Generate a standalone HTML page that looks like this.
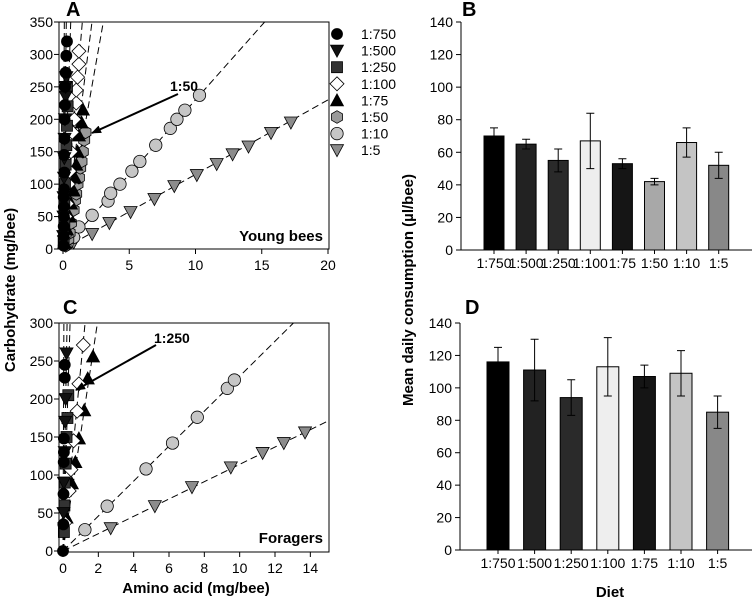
<!DOCTYPE html>
<html><head><meta charset="utf-8">
<style>
html,body{margin:0;padding:0;background:#fff;}
svg{display:block;font-family:"Liberation Sans",Arial,sans-serif;}
.tick{font-size:14px;fill:#000;}
.title{font-size:15px;font-weight:bold;fill:#000;}
.letter{font-size:20px;font-weight:bold;fill:#000;}
</style></head>
<body>
<svg id="fig" width="756" height="600" viewBox="0 0 756 600" xmlns="http://www.w3.org/2000/svg"></svg>
<script>
// ---------- Panel A data (young bees) ----------
const dietsA = ["1:750","1:500","1:250","1:100","1:75","1:50","1:10","1:5"];
const a750x = [0.05,0.06,0.05,0.07,0.06,0.05,0.08,0.1,0.08,0.1,0.12,0.15,0.15,0.2,0.25,0.3];
const a750y = [5,20,35,50,65,80,92,118,145,170,200,222,250,272,298,320];
const a500x = [0.02,0.04,0.05,0.08,0.1,0.12,0.15,0.2,0.2,0.25];
const a500y = [20,50,80,110,140,170,200,235,250,265];
const a250x = [0.05,0.1,0.1,0.15,0.2,0.25,0.3,0.35,0.3];
const a250y = [10,40,70,100,130,160,190,220,250];
const a100x = [0.1,0.2,0.3,0.4,0.5,0.6,0.7,0.85,1.0,1.0,1.1,1.2,1.2];
const a100y = [20,50,70,100,120,150,180,200,225,245,265,285,305];
const a75x = [0.1,0.3,0.5,0.6,0.8,0.9,1.0,1.1,1.2,1.4,1.5];
const a75y = [10,30,50,70,90,110,130,150,175,195,215];
const a50x = [0.2,0.4,0.5,0.6,0.8,0.9,1.0,1.1,1.2,1.3,1.4,1.5,1.6,1.7];
const a50y = [5,15,25,40,60,75,85,100,110,125,135,150,168,180];
const a10x = [0.3,0.8,1.2,2.2,3.4,3.6,4.3,5.2,5.8,7.0,8.1,8.6,9.2,10.3];
const a10y = [8,18,34,52,74,86,100,120,135,160,186,200,214,237];
const a5x = [0.8,2.2,3.5,5.1,6.9,8.4,10.1,11.6,12.8,14.0,15.7,17.2];
const a5y = [10,23,40,57,77,97,114,131,146,158,179,195];
const slopesA = [3500,1400,600,240,160,115,23,11.5];
const ticksAx = [0,5,10,15,20];
const ticksAy = [0,50,100,150,200,250,300,350];

// ---------- Panel C data (foragers) ----------
const c750x = [0,0.02,0.03,0.04,0.05,0.05,0.1,0.1];
const c750y = [0,35,75,117,130,148,228,245];
const c500x = [0.03,0.05,0.1,0.12,0.15,0.2];
const c500y = [50,90,130,170,200,260];
const c250x = [0.05,0.08,0.1,0.15,0.2,0.25,0.3];
const c250y = [25,60,90,115,150,175,205];
const c100x = [0.1,0.35,0.45,0.6,0.8,0.9,1.15];
const c100y = [37,79,107,145,184,220,271];
const c75x = [0.2,0.5,0.7,0.9,1.2,1.4,1.7];
const c75y = [44,89,117,148,185,227,256];
const c10x = [1.24,2.5,4.7,6.2,7.6,9.3,9.7];
const c10y = [28,59,108,142,176,214,225];
const c5x = [2.7,5.2,7.3,9.5,11.3,12.5,13.7];
const c5y = [30,59,84,110,129,142,156];
const slopesC = [6000,1300,750,240,154,23,11.4];
const ticksCx = [0,2,4,6,8,10,12,14];
const ticksCy = [0,50,100,150,200,250,300];

// ---------- Panel B / D data ----------
const dietsB = ["1:750","1:500","1:250","1:100","1:75","1:50","1:10","1:5"];
const meansB = [70,65,55,67,53,42,66,52];
const errsB = [5,3,7,17,3,2,9,8];
const dietsD = ["1:750","1:500","1:250","1:100","1:75","1:10","1:5"];
const meansD = [116,111,94,113,107,109,85];
const errsD = [9,19,11,18,7,14,10];
const ticksBar = [0,20,40,60,80,100,120,140];

const NS = "http://www.w3.org/2000/svg";
const svg = document.getElementById("fig");
function mk(tag, attrs, parent){
  const e = document.createElementNS(NS, tag);
  for (const k in attrs) e.setAttribute(k, attrs[k]);
  (parent||svg).appendChild(e);
  return e;
}
function txt(s, x, y, cls, anchor, parent){
  const t = mk("text", {x:x, y:y, class:cls, "text-anchor":anchor||"start"}, parent);
  t.textContent = s;
  return t;
}

const fills = {"1:750":"#000","1:500":"#111","1:250":"#333","1:100":"#fff","1:75":"#000","1:50":"#9a9a9a","1:10":"#c6c6c6","1:5":"#8c8c8c"};
function marker(diet, cx, cy, g){
  const f = fills[diet]; const st = {fill:f, stroke:"#000", "stroke-width":0.8};
  let e;
  if (diet==="1:750") e = mk("circle", Object.assign({cx:cx, cy:cy, r:5.5}, st), g);
  else if (diet==="1:10") e = mk("circle", Object.assign({cx:cx, cy:cy, r:6.2}, st), g);
  else if (diet==="1:500" || diet==="1:5") e = mk("polygon", Object.assign({points:`${cx-6.5},${cy-5.5} ${cx+6.5},${cy-5.5} ${cx},${cy+6.5}`}, st), g);
  else if (diet==="1:75") e = mk("polygon", Object.assign({points:`${cx-6.5},${cy+5.5} ${cx+6.5},${cy+5.5} ${cx},${cy-6.5}`}, st), g);
  else if (diet==="1:250") e = mk("rect", Object.assign({x:cx-5.5, y:cy-5.5, width:11, height:11}, st), g);
  else if (diet==="1:100") e = mk("polygon", Object.assign({points:`${cx},${cy-7} ${cx+7},${cy} ${cx},${cy+7} ${cx-7},${cy}`}, st), g);
  else { let p=[]; for(let i=0;i<6;i++){const a=Math.PI/3*i+Math.PI/6; p.push((cx+6.3*Math.cos(a)).toFixed(1)+","+(cy+6.3*Math.sin(a)).toFixed(1));} e = mk("polygon", Object.assign({points:p.join(" ")}, st), g); }
  return e;
}

function scatterPanel(cfg){
  const g = mk("g", {});
  
  
  const X = v => cfg.x0 + (v - 0) / cfg.xmax * (cfg.x1 - cfg.x0);
  const Y = v => cfg.y0 - v / cfg.ymax * (cfg.y0 - cfg.y1);
  const clipId = cfg.name + "-clip";
  const cp = mk("clipPath", {id:clipId}, g);
  mk("rect", {x:cfg.fl - 8, y:cfg.y1, width:cfg.x1 + 9 - cfg.fl, height:cfg.fb + 8 - cfg.y1}, cp);
  const plot = mk("g", {"clip-path":`url(#${clipId})`}, g);
  cfg.slopes.forEach((s, i) => {
    let xe = cfg.ymax / s, ye = cfg.ymax;
    if (xe > cfg.xmax) { xe = cfg.xmax; ye = s * cfg.xmax; }
    const l = mk("line", {x1:X(0), y1:Y(0), x2:X(xe), y2:Y(ye), stroke:"#000", "stroke-width":1, "stroke-dasharray":"7,4"}, plot);
    
    
  });
  for (let i = cfg.series.length - 1; i >= 0; i--) {
    const s = cfg.series[i];
    for (let j = 0; j < s.xs.length; j++) {
      const m = marker(cfg.diets[i], X(s.xs[j]), Y(s.ys[j]), plot);
      
      
    }
  }
  const fr = mk("rect", {x:cfg.fl, y:cfg.y1, width:cfg.x1 + 1 - cfg.fl, height:cfg.fb - cfg.y1, fill:"none", stroke:"#000", "stroke-width":1}, g);
  
  
  cfg.xticks.forEach(v => {
    mk("line", {x1:X(v), y1:cfg.fb, x2:X(v), y2:cfg.fb + 5, stroke:"#000"}, g);
    const t = txt(String(v), X(v), cfg.fb + 21, "tick", "middle", g);
    
    
  });
  cfg.yticks.forEach(v => {
    mk("line", {x1:cfg.fl - 5, y1:Y(v), x2:cfg.fl, y2:Y(v), stroke:"#000"}, g);
    const t = txt(String(v), cfg.fl - 6, Y(v) + 5, "tick", "end", g);
    
    
  });
  return {X, Y, g};
}

const pA = scatterPanel({name:"panel-a-young-bees", x0:63, x1:328, xmax:20, y0:249, y1:22, ymax:350, fl:59, fb:249,
  diets:dietsA, slopes:slopesA, xticks:ticksAx, yticks:ticksAy,
  series:[{xs:a750x,ys:a750y},{xs:a500x,ys:a500y},{xs:a250x,ys:a250y},{xs:a100x,ys:a100y},{xs:a75x,ys:a75y},{xs:a50x,ys:a50y},{xs:a10x,ys:a10y},{xs:a5x,ys:a5y}]});
const dietsC = ["1:750","1:500","1:250","1:100","1:75","1:10","1:5"];
const pC = scatterPanel({name:"panel-c-foragers", x0:63, x1:328, xmax:15, y0:551, y1:323, ymax:300, fl:59, fb:552,
  diets:dietsC, slopes:slopesC, xticks:ticksCx, yticks:ticksCy,
  series:[{xs:c750x,ys:c750y},{xs:c500x,ys:c500y},{xs:c250x,ys:c250y},{xs:c100x,ys:c100y},{xs:c75x,ys:c75y},{xs:c10x,ys:c10y},{xs:c5x,ys:c5y}]});

const lg = mk("g", {});


dietsA.forEach((d, i) => {
  const y = 34 + i * 16.6;
  const m = marker(d, 337, y, lg);
  
  
  const t = txt(d, 361, y + 5, "tick", "start", lg);
  
  
});

mk("defs", {}).innerHTML = '<marker id="ah" markerWidth="10" markerHeight="8" refX="9" refY="4" orient="auto" markerUnits="userSpaceOnUse"><polygon points="0,0 10,4 0,8" fill="#000"/></marker>';
const an1 = txt("1:50", 170, 91, "tick", "start"); an1.setAttribute("font-weight","bold");
 
const ar1 = mk("line", {x1:178, y1:94, x2:92, y2:133, stroke:"#000", "stroke-width":2, "marker-end":"url(#ah)"});
 
const an2 = txt("1:250", 154, 343, "tick", "start"); an2.setAttribute("font-weight","bold");
 
const ar2 = mk("line", {x1:156, y1:345, x2:76, y2:390, stroke:"#000", "stroke-width":2, "marker-end":"url(#ah)"});
 

const yb = txt("Young bees", 323, 241, "title", "end"); yb.setAttribute("font-size","14");
 
const fg = txt("Foragers", 323, 543, "title", "end"); fg.setAttribute("font-size","14");
 

function barPanel(cfg){
  const g = mk("g", {});
  
  
  const Y = v => cfg.y0 - v / 140 * (cfg.y0 - cfg.y1);
  const X = i => cfg.c0 + i * cfg.step;
  cfg.cats.forEach((c, i) => {
    const b = mk("rect", {x:X(i) - cfg.w/2, y:Y(cfg.means[i]), width:cfg.w, height:cfg.y0 - Y(cfg.means[i]), fill:cfg.cols[i], stroke:"#000", "stroke-width":1}, g);
    
    
    const e = mk("path", {d:`M${X(i)},${Y(cfg.means[i]-cfg.errs[i])}V${Y(cfg.means[i]+cfg.errs[i])}M${X(i)-4},${Y(cfg.means[i]+cfg.errs[i])}h8M${X(i)-4},${Y(cfg.means[i]-cfg.errs[i])}h8`, stroke:"#000", "stroke-width":1, fill:"none"}, g);
    
    
    mk("line", {x1:X(i), y1:cfg.y0, x2:X(i), y2:cfg.y0 + 4, stroke:"#000"}, g);
    const t = txt(c, X(i), cfg.y0 + 18, "tick", "middle", g);
    t.setAttribute("font-size", cfg.lfs);
    
    
  });
  mk("line", {x1:cfg.ax, y1:cfg.y1, x2:cfg.ax, y2:cfg.y0, stroke:"#000", "stroke-width":1}, g);
  mk("line", {x1:cfg.ax, y1:cfg.y0, x2:752, y2:cfg.y0, stroke:"#000", "stroke-width":1}, g);
  ticksBar.forEach(v => {
    mk("line", {x1:cfg.ax - 5, y1:Y(v), x2:cfg.ax, y2:Y(v), stroke:"#000"}, g);
    const t = txt(String(v), cfg.ax - 8, Y(v) + 5, "tick", "end", g);
    
    
  });
}
barPanel({name:"panel-b-young-bees-consumption", cats:dietsB, means:meansB, errs:errsB, y0:250, y1:22, ax:461, c0:494, step:32.1, w:20, lfs:"10.5",
  cols:["#000","#222","#2a2a2a","#eee","#151515","#a8a8a8","#c4c4c4","#888"]});
barPanel({name:"panel-d-foragers-consumption", cats:dietsD, means:meansD, errs:errsD, y0:550, y1:323, ax:460, c0:498, step:36.6, w:22, lfs:"12",
  cols:["#000","#222","#2a2a2a","#eee","#151515","#c4c4c4","#888"]});

const l1 = txt("A", 66, 16, "letter");  
const l2 = txt("B", 462, 16, "letter");  
const l3 = txt("C", 63, 314, "letter");  
const l4 = txt("D", 465, 314, "letter");  
const yt1 = txt("Carbohydrate (mg/bee)", 0, 0, "title", "middle");
yt1.setAttribute("transform", "translate(15,290) rotate(-90)");
 
const yt2 = txt("Mean daily consumption (\u00b5l/bee)", 0, 0, "title", "middle");
yt2.setAttribute("transform", "translate(413,290) rotate(-90)");
 
const xt1 = txt("Amino acid (mg/bee)", 196, 593, "title", "middle");
xt1.setAttribute("font-size","16");
 
const xt2 = txt("Diet", 610, 597, "title", "middle");
xt2.setAttribute("font-size","16");
 
</script>
</body></html>
